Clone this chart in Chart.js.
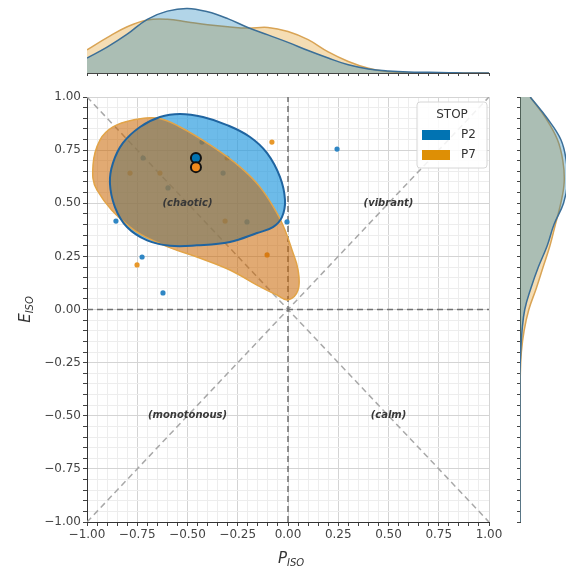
<!DOCTYPE html>
<html>
<head>
<meta charset="utf-8">
<script src="https://cdn.jsdelivr.net/npm/chart.js@4"></script>
<style>
html, body { margin: 0; padding: 0; background: #fff; }
body { width: 566px; height: 568px; overflow: hidden; position: relative; }
.panel { position: absolute; }
</style>
</head>
<body>
<div class="panel" style="left:0;top:0;width:510px;height:80px"><canvas id="topChart"></canvas></div>
<div class="panel" style="left:0;top:80px;width:510px;height:488px"><canvas id="mainChart"></canvas></div>
<div class="panel" style="left:510px;top:80px;width:90px;height:488px"><canvas id="rightChart"></canvas></div>
<script>
// Stops shown in the legend
const stops = ['P2', 'P7'];
const stopColors = ['#0173b2', '#de8f05'];

// Individual responses (ISO pleasantness, ISO eventfulness)
const p2Pleasant = [-0.856, -0.726, -0.622, -0.005, 0.244, -0.428, -0.721, -0.323, -0.597, -0.204];
const p2Eventful = [0.416, 0.247, 0.078, 0.412, 0.755, 0.788, 0.713, 0.642, 0.572, 0.412];
const p7Pleasant = [-0.751, -0.080, -0.104, -0.303, -0.786, -0.637, -0.313];
const p7Eventful = [0.210, 0.788, 0.257, 0.713, 0.642, 0.642, 0.416];

// Mean position per stop
const meanPleasant = [-0.458, -0.458];
const meanEventful = [0.713, 0.670];

// Density contour outlines
const p2ContourX = [-0.736, -0.637, -0.537, -0.423, -0.303, -0.189, -0.104, -0.040, -0.015, -0.030, -0.075, -0.154, -0.289, -0.453, -0.587, -0.701, -0.801, -0.861, -0.886, -0.871, -0.821];
const p2ContourY = [0.859, 0.906, 0.920, 0.906, 0.868, 0.812, 0.736, 0.624, 0.515, 0.435, 0.388, 0.360, 0.318, 0.302, 0.300, 0.325, 0.388, 0.482, 0.595, 0.689, 0.784];
const p7ContourX = [-0.970, -0.935, -0.871, -0.771, -0.652, -0.537, -0.373, -0.239, -0.139, -0.055, -0.015, 0.020, 0.050, 0.050, 0.000, -0.055, -0.154, -0.289, -0.453, -0.622, -0.786, -0.950];
const p7ContourY = [0.680, 0.798, 0.859, 0.892, 0.901, 0.859, 0.765, 0.671, 0.576, 0.454, 0.374, 0.280, 0.186, 0.092, 0.045, 0.068, 0.115, 0.186, 0.247, 0.304, 0.388, 0.562];

// Marginal densities on a common grid
const kdeGrid = [-1.0, -0.9, -0.8, -0.7, -0.6, -0.5, -0.4, -0.3, -0.2, -0.1, 0.0, 0.1, 0.2, 0.3, 0.4, 0.5, 0.6, 0.7, 0.8, 0.9, 1.0];
const p2TopDensity = [0.22, 0.38, 0.57, 0.79, 0.91, 0.95, 0.90, 0.80, 0.67, 0.56, 0.45, 0.33, 0.22, 0.12, 0.06, 0.03, 0.015, 0.01, 0.005, 0, 0];
const p7TopDensity = [0.34, 0.52, 0.68, 0.78, 0.79, 0.75, 0.71, 0.68, 0.66, 0.67, 0.61, 0.49, 0.31, 0.17, 0.07, 0.02, 0.005, 0, 0, 0, 0];
const p2RightDensity = [0, 0, 0, 0, 0, 0, 0, 0, 0.01, 0.03, 0.07, 0.16, 0.27, 0.40, 0.50, 0.64, 0.70, 0.68, 0.60, 0.40, 0.15];
const p7RightDensity = [0, 0, 0, 0, 0, 0, 0, 0.005, 0.02, 0.06, 0.13, 0.24, 0.34, 0.44, 0.52, 0.60, 0.65, 0.63, 0.55, 0.38, 0.15];

// Axes, quadrant names and reference lines
const majorTicks = [-1, -0.75, -0.5, -0.25, 0, 0.25, 0.5, 0.75, 1];
const quadrantNames = ['(chaotic)', '(vibrant)', '(monotonous)', '(calm)'];
const quadrantX = [-0.5, 0.5, -0.5, 0.5];
const quadrantY = [0.5, 0.5, -0.5, -0.5];
const refSpan = [-1, 1];
const refZero = [0, 0];
const refDown = [1, -1];

const FONT = '"DejaVu Sans", sans-serif';
const toPoints = (xs, ys) => xs.map((x, i) => ({ x: x, y: ys[i] }));
const isMajor = v => majorTicks.some(m => Math.abs(m - v) < 1e-6);
const fmt = v => {
    if (Math.abs(v) < 1e-9) v = 0;
    return v.toFixed(2).replace('-', '\u2212');
};

// make contour lines closed smooth loops
const closedLoops = {
    id: 'closedLoops',
    afterDatasetsUpdate(chart) {
        chart.data.datasets.forEach((ds, i) => {
            if (!ds.closed) return;
            const line = chart.getDatasetMeta(i).dataset;
            if (!line) return;
            line._loop = true;
            line._fullLoop = true;
            line._segments = undefined;
            line._path = undefined;
            line._pointsUpdated = false;
        });
    }
};

function drawSubTitle(ctx, main, sub, cx, baseY) {
    ctx.font = 'italic 15px ' + FONT;
    const w1 = ctx.measureText(main).width;
    ctx.font = 'italic 10px ' + FONT;
    const w2 = ctx.measureText(sub).width;
    const x = cx - (w1 + w2) / 2;
    ctx.textAlign = 'left';
    ctx.textBaseline = 'alphabetic';
    ctx.fillStyle = '#333';
    ctx.font = 'italic 15px ' + FONT;
    ctx.fillText(main, x, baseY);
    ctx.font = 'italic 10px ' + FONT;
    ctx.fillText(sub, x + w1, baseY + 3);
}

const decorations = {
    id: 'decorations',
    afterDatasetsDraw(chart) {
        const { ctx, chartArea, scales } = chart;
        ctx.save();
        // quadrant labels
        ctx.font = 'bold italic 10px ' + FONT;
        ctx.fillStyle = '#383838';
        ctx.textAlign = 'center';
        ctx.textBaseline = 'middle';
        quadrantNames.forEach((name, i) => {
            ctx.fillText(name, scales.x.getPixelForValue(quadrantX[i]), scales.y.getPixelForValue(quadrantY[i]));
        });

        // legend box
        const bx = chartArea.right - 72, by = chartArea.top + 5, bw = 70, bh = 66;
        ctx.beginPath();
        ctx.roundRect(bx, by, bw, bh, 3);
        ctx.fillStyle = 'rgba(255,255,255,0.85)';
        ctx.fill();
        ctx.strokeStyle = '#d6d6d6';
        ctx.lineWidth = 1;
        ctx.stroke();
        ctx.fillStyle = '#333';
        ctx.font = '12px ' + FONT;
        ctx.textAlign = 'center';
        ctx.fillText('STOP', bx + bw / 2, by + 13);
        stops.forEach((s, i) => {
            const ry = by + 33 + i * 20;
            ctx.fillStyle = stopColors[i];
            ctx.fillRect(bx + 5, ry - 5, 28, 10);
            ctx.fillStyle = '#333';
            ctx.textAlign = 'left';
            ctx.fillText(s, bx + 44, ry);
        });
        ctx.restore();
    },
    afterDraw(chart) {
        const { ctx, chartArea } = chart;
        ctx.save();
        drawSubTitle(ctx, 'P', 'ISO', (chartArea.left + chartArea.right) / 2 + 3, chartArea.bottom + 41);
        ctx.translate(30, (chartArea.top + chartArea.bottom) / 2);
        ctx.rotate(-Math.PI / 2);
        drawSubTitle(ctx, 'E', 'ISO', 0, 0);
        ctx.restore();
    }
};

const mainAxis = (fitFn) => ({
    type: 'linear',
    min: -1,
    max: 1,
    afterFit: fitFn,
    border: { display: true, color: '#333', width: 1 },
    grid: {
        color: c => (c.tick && isMajor(c.tick.value)) ? '#d4d4d4' : '#ededed',
        tickColor: '#444',
        tickLength: 4
    },
    ticks: {
        stepSize: 0.05,
        autoSkip: false,
        maxRotation: 0,
        padding: 2,
        color: '#444',
        font: { family: 'DejaVu Sans', size: 12 },
        callback: v => isMajor(v) ? fmt(v) : ''
    }
});

new Chart(document.getElementById('mainChart'), {
    type: 'scatter',
    data: {
        datasets: [
            { type: 'line', data: toPoints(refSpan, refDown), borderColor: '#a8a8a8', borderWidth: 1.5, borderDash: [6, 4], pointRadius: 0, order: 12 },
            { type: 'line', data: toPoints(refSpan, refSpan), borderColor: '#a8a8a8', borderWidth: 1.5, borderDash: [6, 4], pointRadius: 0, order: 12 },
            { type: 'line', data: toPoints(refZero, refSpan), borderColor: '#707070', borderWidth: 1.5, borderDash: [6, 4], pointRadius: 0, order: 11 },
            { type: 'line', data: toPoints(refSpan, refZero), borderColor: '#707070', borderWidth: 1.5, borderDash: [6, 4], pointRadius: 0, order: 11 },
            { label: 'P2', data: toPoints(p2Pleasant, p2Eventful), backgroundColor: '#2f86c4', borderWidth: 0, pointRadius: 2.6, order: 9 },
            { label: 'P7', data: toPoints(p7Pleasant, p7Eventful), backgroundColor: '#e8982a', borderWidth: 0, pointRadius: 2.6, order: 9 },
            { type: 'line', closed: true, data: toPoints(p2ContourX, p2ContourY), fill: 'shape', backgroundColor: 'rgba(40,155,222,0.68)', borderWidth: 0, pointRadius: 0, tension: 0.4, spanGaps: true, order: 8 },
            { type: 'line', closed: true, data: toPoints(p7ContourX, p7ContourY), fill: 'shape', backgroundColor: 'rgba(200,100,0,0.55)', borderColor: '#e2a448', borderWidth: 1.5, pointRadius: 0, tension: 0.4, spanGaps: true, order: 7 },
            { type: 'line', closed: true, data: toPoints(p2ContourX, p2ContourY), fill: false, borderColor: '#1f64a0', borderWidth: 2, pointRadius: 0, tension: 0.4, spanGaps: true, order: 6 },
            { data: [{ x: meanPleasant[0], y: meanEventful[0] }], backgroundColor: stopColors[0], borderColor: '#111', borderWidth: 2, pointRadius: 5, order: 2 },
            { data: [{ x: meanPleasant[1], y: meanEventful[1] }], backgroundColor: '#f08a1c', borderColor: '#111', borderWidth: 2, pointRadius: 5, order: 1 }
        ]
    },
    options: {
        responsive: true,
        maintainAspectRatio: false,
        animation: false,
        events: [],
        layout: { padding: { top: 17, right: 21, left: 0, bottom: 0 } },
        plugins: { legend: { display: false }, tooltip: { enabled: false } },
        scales: {
            x: mainAxis(s => { s.height = 46; }),
            y: mainAxis(s => { s.width = 87; })
        }
    },
    plugins: [closedLoops, decorations]
});

// top marginal (pleasantness)
new Chart(document.getElementById('topChart'), {
    type: 'line',
    data: {
        datasets: [
            { data: toPoints(kdeGrid, p2TopDensity), fill: 'origin', backgroundColor: 'rgba(1,115,178,0.3)', borderColor: '#3b6f98', borderWidth: 1.5, pointRadius: 0, tension: 0.4 },
            { data: toPoints(kdeGrid, p7TopDensity), fill: 'origin', backgroundColor: 'rgba(222,143,5,0.3)', borderColor: '#d9a455', borderWidth: 1.5, pointRadius: 0, tension: 0.4 }
        ]
    },
    options: {
        responsive: true,
        maintainAspectRatio: false,
        animation: false,
        events: [],
        layout: { padding: { top: 5, right: 21, left: 87, bottom: 7 } },
        plugins: { legend: { display: false }, tooltip: { enabled: false } },
        scales: {
            x: {
                type: 'linear', min: -1, max: 1,
                afterFit: s => { s.height = 0; },
                border: { display: true, color: '#444' },
                grid: { drawOnChartArea: false, tickLength: 3, tickColor: '#444' },
                ticks: { stepSize: 0.05, autoSkip: false, display: false }
            },
            y: { display: false, min: 0, max: 1 }
        }
    }
});

// right marginal (eventfulness)
new Chart(document.getElementById('rightChart'), {
    type: 'line',
    data: {
        datasets: [
            { data: toPoints(p2RightDensity, kdeGrid), fill: 'origin', backgroundColor: 'rgba(1,115,178,0.3)', borderColor: '#3b6f98', borderWidth: 1.5, pointRadius: 0, tension: 0.4 },
            { data: toPoints(p7RightDensity, kdeGrid), fill: 'origin', backgroundColor: 'rgba(222,143,5,0.3)', borderColor: '#d9a455', borderWidth: 1.5, pointRadius: 0, tension: 0.4 }
        ]
    },
    options: {
        indexAxis: 'y',
        responsive: true,
        maintainAspectRatio: false,
        animation: false,
        events: [],
        layout: { padding: { top: 17, right: 12, left: 10, bottom: 46 } },
        plugins: { legend: { display: false }, tooltip: { enabled: false } },
        scales: {
            x: { type: 'linear', display: false, min: 0, max: 1 },
            y: {
                type: 'linear', min: -1, max: 1,
                afterFit: s => { s.width = 0; },
                border: { display: true, color: '#444' },
                grid: { drawOnChartArea: false, tickLength: 3, tickColor: '#444' },
                ticks: { stepSize: 0.05, autoSkip: false, display: false }
            }
        }
    }
});
</script>
</body>
</html>
